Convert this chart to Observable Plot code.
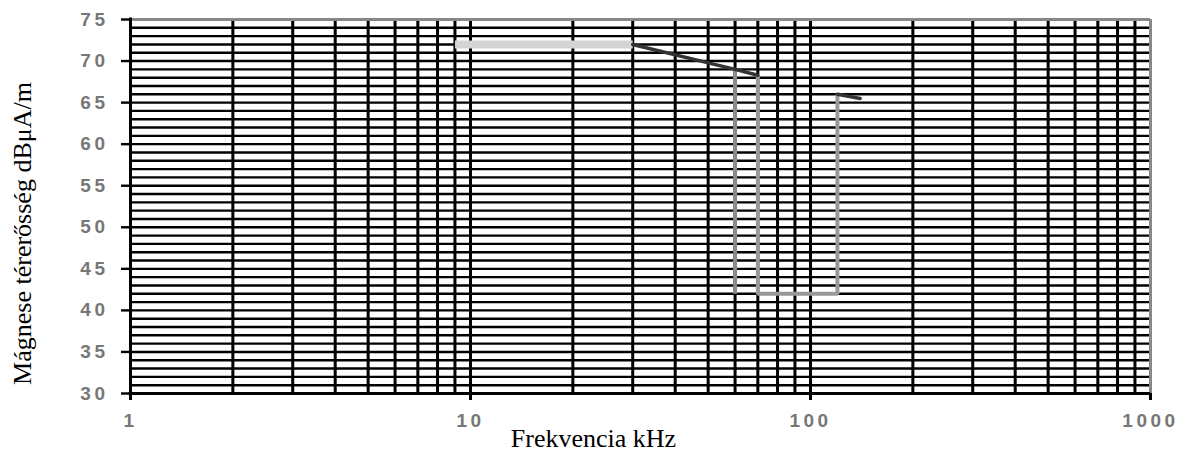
<!DOCTYPE html>
<html>
<head>
<meta charset="utf-8">
<script src="https://cdn.jsdelivr.net/npm/d3@7"></script>
<script src="https://cdn.jsdelivr.net/npm/@observablehq/plot@0.6"></script>
<style>
  html, body { margin: 0; padding: 0; background: #fff; }
  #chart svg { display: block; }
</style>
</head>
<body>
<div id="chart"></div>
<script>
// ---- data ----
const xTickValues = [1, 10, 100, 1000];
const yTickValues = [30, 35, 40, 45, 50, 55, 60, 65, 70, 75];
const xGridValues = [2, 3, 4, 5, 6, 7, 8, 9, 10, 20, 30, 40, 50, 60, 70, 80, 90, 100, 200, 300, 400, 500, 600, 700, 800, 900];
const yGridValues = d3.range(30, 76, 1);

const plateauFreq  = [9, 30];
const plateauLevel = [72, 72];
const slopeFreq    = [30, 60, 70];
const slopeLevel   = [72, 69, 68.3];
const drop60Freq   = [60, 60];
const drop60Level  = [69, 42];
const bandFreq     = [70, 70, 120, 120];
const bandLevel    = [68.3, 42, 42, 66];
const tailFreq     = [120, 140];
const tailLevel    = [66, 65.5];

const xTitle = "Frekvencia kHz";
const yTitle = "Mágnese térerősség dBμA/m";

const toRows = (fs, ls) => fs.map((f, i) => ({f, db: ls[i]}));

const chart = Plot.plot({
  width: 1182,
  height: 454,
  marginLeft: 130,
  marginRight: 32,
  marginTop: 19,
  marginBottom: 61,
  x: {type: "log", domain: [1, 1000]},
  y: {domain: [30, 75]},
  style: {background: "#fff", color: "#000", fontFamily: "'Liberation Sans', Arial, sans-serif"},
  marks: [
    Plot.ruleY(yGridValues, {stroke: "#000", strokeWidth: 2.4}),
    Plot.ruleX(xGridValues, {stroke: "#000", strokeWidth: 3}),
    Plot.ruleY([75], {stroke: "#888", strokeWidth: 3}),
    Plot.ruleX([1000], {stroke: "#888", strokeWidth: 3}),
    Plot.ruleX([1], {stroke: "#000", strokeWidth: 3, insetBottom: -7, insetTop: -1.5}),
    Plot.ruleY([30], {stroke: "#000", strokeWidth: 3, insetLeft: -1.5}),
    Plot.axisY({ticks: yTickValues, tickSize: 9, tickPadding: 13, tickFormat: d => String(d), label: null, fontSize: 19, fontWeight: "bold", fill: "#777", strokeWidth: 2.4}),
    Plot.axisX({ticks: xTickValues, tickSize: 7, tickPadding: 13, tickFormat: d => String(d), label: null, fontSize: 19, fontWeight: "bold", fill: "#777", strokeWidth: 3}),
    Plot.line(toRows(plateauFreq, plateauLevel), {x: "f", y: "db", stroke: "#d4d4d4", strokeWidth: 8, strokeLinecap: "butt"}),
    Plot.line(toRows(drop60Freq, drop60Level), {x: "f", y: "db", stroke: "#8a8a8a", strokeWidth: 4, strokeLinecap: "butt"}),
    Plot.line(toRows(bandFreq, bandLevel), {x: "f", y: "db", stroke: "#999", strokeWidth: 4, strokeLinejoin: "miter", strokeLinecap: "butt"}),
    Plot.line(toRows(slopeFreq, slopeLevel), {x: "f", y: "db", stroke: "#333", strokeWidth: 3.5}),
    Plot.line(toRows(tailFreq, tailLevel), {x: "f", y: "db", stroke: "#333", strokeWidth: 3.5}),
    Plot.text([xTitle], {text: d => d, frameAnchor: "bottom", textAnchor: "middle", dx: -47, dy: 53, fontSize: 26, fontFamily: "'Liberation Serif', 'Times New Roman', serif", fill: "#000"}),
    Plot.text([yTitle], {text: d => d, frameAnchor: "left", textAnchor: "middle", lineAnchor: "middle", dx: -108, dy: 27, rotate: -90, fontSize: 26, fontFamily: "'Liberation Serif', 'Times New Roman', serif", fill: "#000"})
  ]
});

d3.select(chart).selectAll('g[aria-label="y-axis tick label"] text, g[aria-label="x-axis tick label"] text')
  .style("letter-spacing", "3.5px");

document.getElementById("chart").appendChild(chart);
</script>
</body>
</html>
